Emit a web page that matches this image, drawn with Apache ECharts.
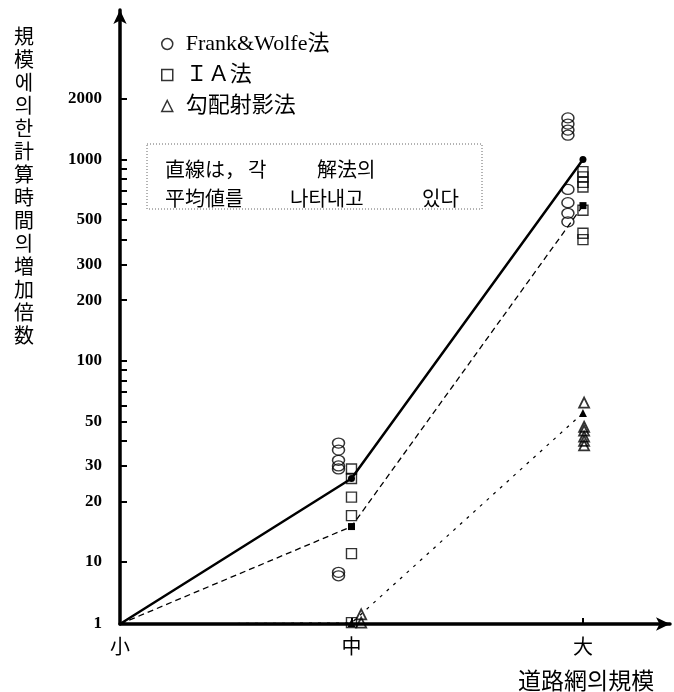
<!DOCTYPE html>
<html><head><meta charset="utf-8">
<script src="https://cdn.jsdelivr.net/npm/echarts@6/dist/echarts.min.js"></script>
<style>html,body{margin:0;padding:0;background:#fff}#c{width:674px;height:692px}</style>
</head><body><div id="c"></div>
<script>
// ---- data ----
const categories = ['小', '中', '大'];
const yTickLabels = [1, 10, 20, 30, 50, 100, 200, 300, 500, 1000, 2000];
const yMinorTicks = [10, 20, 30, 40, 50, 60, 70, 80, 90, 100, 200, 300, 400, 500, 600, 700, 800, 900, 1000, 2000];
const legendNames = ['Frank&Wolfe法', 'ＩＡ法', '勾配射影法'];
const frankMid = [39, 36, 32, 30, 29, 8.5, 8];
const frankLarge = [1610, 1500, 1400, 1320, 710, 610, 540, 490];
const iaMid = [29, 26, 21, 17, 11, 1.2];
const iaLarge = [870, 820, 770, 730, 560, 430, 400];
const gradMid = [2.4, 1.2];
const gradLarge = [62, 47, 45, 42, 40, 38];
const frankMean = [1, 26, 1000];
const iaMean = [1, 15, 590];
const gradMean = [1, 1.15, 55];

// ---- axis transform: log above 10, compressed linear 1..10 (as in the original broken axis) ----
const K = 62 / 201.25;
function tv(v) { return v >= 10 ? Math.log10(v) : 1 - K * (10 - v) / 9; }
const yMin = tv(1), yMax = yMin + 614 / 201.25;
const labelMap = {};
yTickLabels.forEach(v => { labelMap[tv(v).toFixed(5)] = String(v); });

const cjk = "'Noto Sans CJK JP','Noto Sans CJK KR',sans-serif";
const serif = "'Liberation Serif','Noto Sans CJK JP',serif";

function pts(mid, large, offMid, offLarge) {
  return mid.map(v => [1 + offMid, tv(v)]).concat(large.map(v => [2 + offLarge, tv(v)]));
}
function meanPts(arr) { return arr.map((v, i) => [i, tv(v)]); }

const hollow = { color: 'rgba(0,0,0,0)', borderColor: '#000', borderWidth: 1.4 };

const chart = echarts.init(document.getElementById('c'));
chart.setOption({
  animation: false,
  backgroundColor: '#fff',
  grid: { left: 120, right: 4, top: 10, bottom: 68 },
  legend: {
    orient: 'vertical', left: 156, top: 28,
    itemWidth: 11, itemHeight: 11, itemGap: 9,
    data: legendNames.map((n, i) => ({ name: n, icon: ['circle', 'rect', 'triangle'][i] })),
    itemStyle: { color: '#fff', borderColor: '#000', borderWidth: 1.5 },
    textStyle: { fontFamily: serif, fontSize: 22, color: '#000', padding: [0, 0, 0, 8] },
    selectedMode: false
  },
  xAxis: {
    type: 'value', min: 0, max: 2.376,
    axisLine: { show: true, onZero: false, lineStyle: { color: '#000', width: 3.5 }, symbol: ['none', 'arrow'], symbolSize: [10, 14] },
    axisTick: { show: true, inside: true, length: 6, customValues: [1, 2], lineStyle: { color: '#000', width: 2 } },
    axisLabel: { customValues: [0, 1, 2], formatter: v => categories[Math.round(v)], fontSize: 20, margin: 12, color: '#000', fontFamily: cjk },
    splitLine: { show: false }
  },
  yAxis: {
    type: 'value', min: yMin, max: yMax,
    axisLine: { show: true, onZero: false, lineStyle: { color: '#000', width: 3.5 }, symbol: ['none', 'arrow'], symbolSize: [10, 14] },
    axisTick: { show: true, inside: true, length: 7, customValues: yMinorTicks.map(tv), lineStyle: { color: '#000', width: 2 } },
    axisLabel: { customValues: yTickLabels.map(tv), formatter: v => labelMap[v.toFixed(5)] || '', fontFamily: serif, fontSize: 17, fontWeight: 'bold', color: '#000', margin: 18 },
    splitLine: { show: false }
  },
  series: [
    { name: legendNames[0], type: 'scatter', symbol: 'circle', symbolSize: [12, 10], itemStyle: hollow, data: pts(frankMid, frankLarge, -0.056, -0.065), z: 5 },
    { name: legendNames[1], type: 'scatter', symbol: 'rect', symbolSize: 10, itemStyle: hollow, data: pts(iaMid, iaLarge, 0, 0), z: 5 },
    { name: legendNames[2], type: 'scatter', symbol: 'triangle', symbolSize: 10, itemStyle: { color: 'rgba(0,0,0,0)', borderColor: '#000', borderWidth: 1.8 }, data: pts(gradMid, gradLarge, 0.042, 0.005), z: 5 },
    { name: 'mean1', type: 'line', data: meanPts(frankMean), symbol: 'circle', symbolSize: (v, p) => p.dataIndex === 0 ? 0 : 7, itemStyle: { color: '#000' }, lineStyle: { color: '#000', width: 2.5 }, z: 4 },
    { name: 'mean2', type: 'line', data: meanPts(iaMean), symbol: 'rect', symbolSize: (v, p) => p.dataIndex === 0 ? 0 : 7, itemStyle: { color: '#000' }, lineStyle: { color: '#000', width: 1.3, type: [6, 4] }, z: 4 },
    { name: 'mean3', type: 'line', data: meanPts(gradMean), symbol: 'triangle', symbolSize: (v, p) => p.dataIndex === 0 ? 0 : 8, itemStyle: { color: '#000' }, lineStyle: { color: '#000', width: 1.2, type: [3, 6] }, z: 4 }
  ],
  graphic: [
    { type: 'rect', shape: { x: 147, y: 144, width: 335, height: 65 }, style: { fill: 'none', stroke: '#666', lineWidth: 1, lineDash: [1, 2] }, silent: true },
    { type: 'text', x: 165, y: 169, style: { text: '直線は，', font: '20px ' + cjk, fill: '#000', textVerticalAlign: 'middle' } },
    { type: 'text', x: 248, y: 169, style: { text: '각', font: '20px ' + cjk, fill: '#000', textVerticalAlign: 'middle' } },
    { type: 'text', x: 317, y: 169, style: { text: '解法의', font: '20px ' + cjk, fill: '#000', textVerticalAlign: 'middle' } },
    { type: 'text', x: 165, y: 198, style: { text: '平均値를', font: '20px ' + cjk, fill: '#000', textVerticalAlign: 'middle' } },
    { type: 'text', x: 290, y: 198, style: { text: '나타내고', font: '20px ' + cjk, fill: '#000', textVerticalAlign: 'middle' } },
    { type: 'text', x: 422, y: 198, style: { text: '있다', font: '20px ' + cjk, fill: '#000', textVerticalAlign: 'middle' } },
    { type: 'text', x: 24, y: 25, style: { text: '規模에의한計算時間의増加倍数'.split('').join('\n'), font: '20px ' + cjk, lineHeight: 23, fill: '#000', textAlign: 'center', textVerticalAlign: 'top' } },
    { type: 'text', x: 518, y: 680, style: { text: '道路網의規模', font: '23px ' + cjk, fill: '#000', textVerticalAlign: 'middle' } }
  ]
});
</script></body></html>
